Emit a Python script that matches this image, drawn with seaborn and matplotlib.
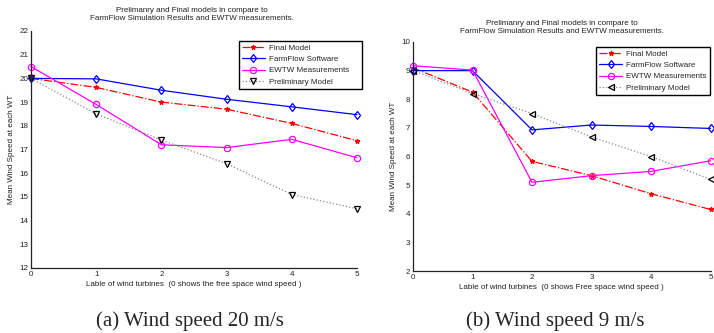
import numpy as np
import matplotlib
matplotlib.use('Agg')
import matplotlib.pyplot as plt
import seaborn as sns

sns.set_style('white')
plt.rcParams['font.family'] = ['Liberation Sans', 'DejaVu Sans']

turbines = [0, 1, 2, 3, 4, 5]
series_names = ['Final Model', 'FarmFlow Software', 'EWTW Measurements', 'Preliminary Model']

# wind speed 20 m/s
final_20 = [20.0, 19.62, 19.0, 18.7, 18.1, 17.37]
farmflow_20 = [20.0, 19.98, 19.5, 19.12, 18.8, 18.47]
ewtw_20 = [20.5, 18.9, 17.2, 17.08, 17.43, 16.65]
prelim_20 = [20.0, 18.5, 17.4, 16.4, 15.1, 14.5]

# wind speed 9 m/s
final_9 = [9.1, 8.25, 5.83, 5.33, 4.7, 4.15]
farmflow_9 = [9.0, 9.0, 6.93, 7.1, 7.05, 6.98]
ewtw_9 = [9.17, 9.02, 5.1, 5.33, 5.48, 5.85]
prelim_9 = [9.0, 8.2, 7.5, 6.68, 6.0, 5.2]

W, H = 714, 333
fig = plt.figure(figsize=(W / 100, H / 100), dpi=100)
FS = 5.8


def px_axes(x0, y0, x1, y1):
    return fig.add_axes([x0 / W, (H - y1) / H, (x1 - x0) / W, (y1 - y0) / H])


def panel(ax, data, prelim_marker, ylim, xlabel, leg_box):
    styles = [
        dict(color='red', linestyle='-.', marker='*', markersize=3.5, markerfacecolor='red'),
        dict(color='blue', linestyle='-', marker='d', markersize=4.5, markerfacecolor='none'),
        dict(color='#ff00ff', linestyle='-', marker='o', markersize=4.5, markerfacecolor='none'),
        dict(color='black', linestyle=':', marker=prelim_marker, markersize=5, markerfacecolor='none'),
    ]
    for name, vals, st in zip(series_names, data, styles):
        ls = st['linestyle']
        line_color = '#888888' if ls == ':' else st['color']
        sns.lineplot(x=turbines, y=vals, ax=ax, color=line_color, linestyle=ls,
                     linewidth=0.9, label=name, markeredgecolor=st['color'],
                     markeredgewidth=0.9, marker=st['marker'],
                     markersize=st['markersize'], markerfacecolor=st['markerfacecolor'],
                     clip_on=False)
    ax.set_xlim(0, 5)
    ax.set_ylim(*ylim)
    ax.set_xticks(turbines)
    ax.set_yticks(np.arange(ylim[0], ylim[1] + 1, 1))
    ax.tick_params(direction='in', length=3, width=0.6, labelsize=FS, pad=2, colors='#222222')
    ax.spines['top'].set_visible(False)
    ax.spines['right'].set_visible(False)
    for s in ['left', 'bottom']:
        ax.spines[s].set_color('#222222')
        ax.spines[s].set_linewidth(0.9)
    ax.set_xlabel(xlabel, fontsize=FS, labelpad=2, color='#222222')
    ax.set_ylabel('Mean Wind Speed at each WT', fontsize=FS, labelpad=3, color='#222222')
    x0, y0, x1, y1 = leg_box
    leg = ax.legend(loc='upper left', bbox_to_anchor=(x0 / W, 1 - y1 / H, (x1 - x0) / W, (y1 - y0) / H),
                    bbox_transform=fig.transFigure, mode='expand', fontsize=FS,
                    frameon=True, fancybox=False, framealpha=1, handlelength=2.8,
                    handletextpad=0.5, borderpad=0.4, labelspacing=0.45, borderaxespad=0)
    leg.get_frame().set_edgecolor('black')
    leg.get_frame().set_linewidth(1.0)
    leg.set_zorder(10)


ax1 = px_axes(31, 31, 357, 268)
panel(ax1, [final_20, farmflow_20, ewtw_20, prelim_20], 'v', (12, 22),
      'Lable of wind turbines  (0 shows the free space wind speed )', (239, 41, 362, 88))

ax2 = px_axes(413, 42, 710.5, 271)
panel(ax2, [final_9, farmflow_9, ewtw_9, prelim_9], '<', (2, 10),
      'Lable of wind turbines  (0 shows Free space wind speed )', (596, 47, 710, 94))

title = 'Prelimanry and Final models in compare to\nFarmFlow Simulation Results and EWTW measurements.'
fig.text(192 / W, 1 - 7 / H, title, ha='center', va='top', fontsize=FS, linespacing=1.2, color='#222222')
fig.text(562 / W, 1 - 20 / H, title, ha='center', va='top', fontsize=FS, linespacing=1.2, color='#222222')

fig.text(190 / W, 1 - 321 / H, '(a) Wind speed 20 m/s', ha='center', va='center',
         fontsize=15, family='Liberation Serif')
fig.text(555 / W, 1 - 321 / H, '(b) Wind speed 9 m/s', ha='center', va='center',
         fontsize=15, family='Liberation Serif')

fig.savefig('out.png', dpi=100)
